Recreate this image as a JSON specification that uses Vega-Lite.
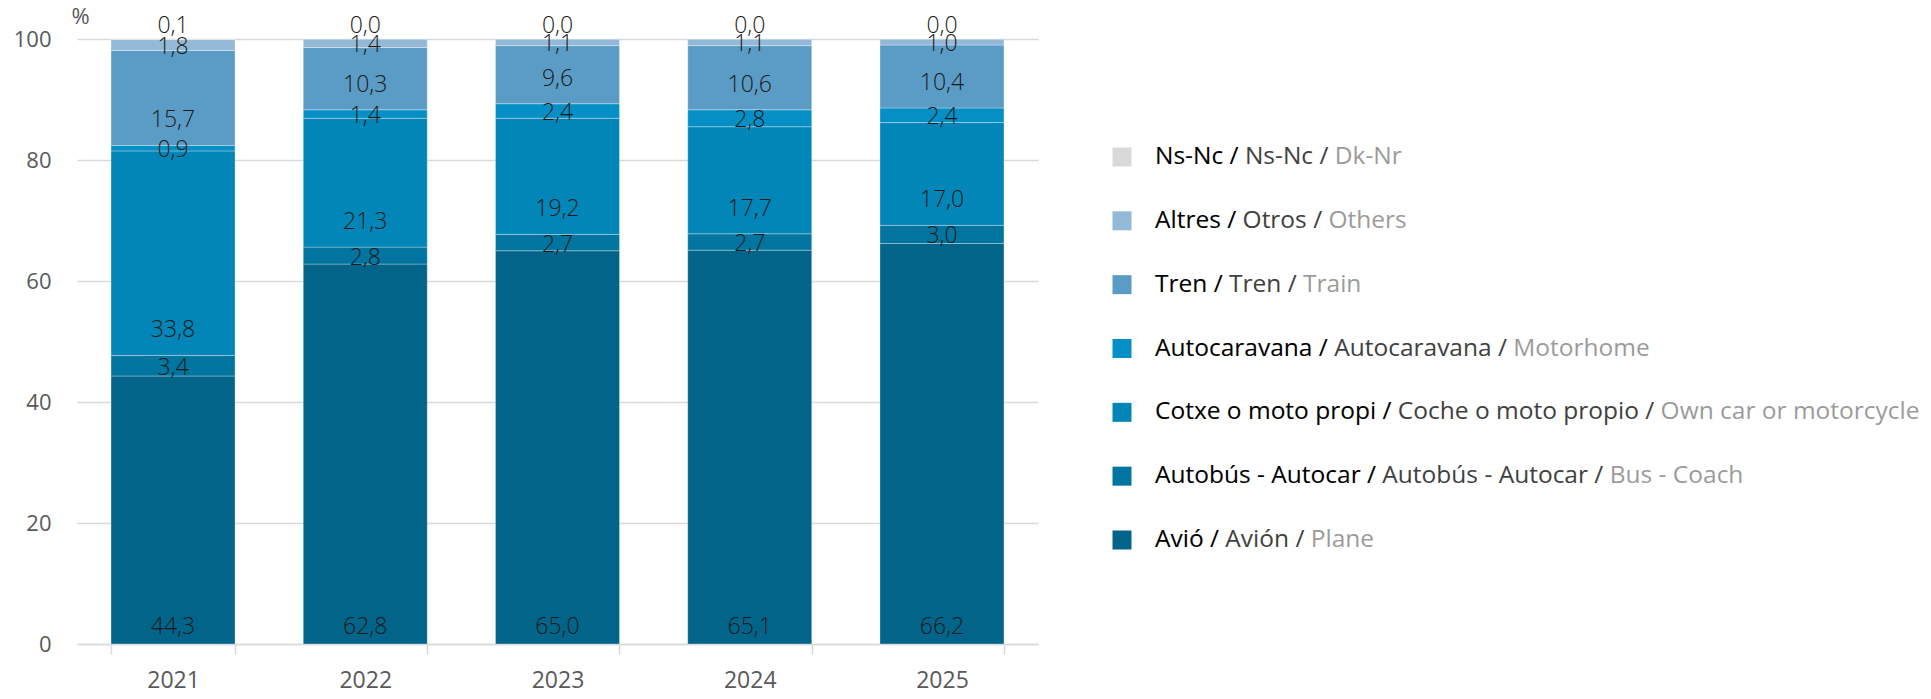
{
  "$schema": "https://vega.github.io/schema/vega-lite/v6.json",
  "padding": {"left": 13, "top": 5, "right": 0, "bottom": 0},
  "spacing": 74,
  "config": {
    "view": {"stroke": null},
    "font": "Open Sans",
    "locale": {"number": {"decimal": ",", "thousands": ".", "grouping": [3], "currency": ["", " €"]}}
  },
  "datasets": {
    "bars": [
      {"year": "2021", "mode": "Avió", "value": 44.3},
      {"year": "2021", "mode": "Autobús - Autocar", "value": 3.4},
      {"year": "2021", "mode": "Cotxe o moto propi", "value": 33.8},
      {"year": "2021", "mode": "Autocaravana", "value": 0.9},
      {"year": "2021", "mode": "Tren", "value": 15.7},
      {"year": "2021", "mode": "Altres", "value": 1.8},
      {"year": "2021", "mode": "Ns-Nc", "value": 0.1},
      {"year": "2022", "mode": "Avió", "value": 62.8},
      {"year": "2022", "mode": "Autobús - Autocar", "value": 2.8},
      {"year": "2022", "mode": "Cotxe o moto propi", "value": 21.3},
      {"year": "2022", "mode": "Autocaravana", "value": 1.4},
      {"year": "2022", "mode": "Tren", "value": 10.3},
      {"year": "2022", "mode": "Altres", "value": 1.4},
      {"year": "2022", "mode": "Ns-Nc", "value": 0.0},
      {"year": "2023", "mode": "Avió", "value": 65.0},
      {"year": "2023", "mode": "Autobús - Autocar", "value": 2.7},
      {"year": "2023", "mode": "Cotxe o moto propi", "value": 19.2},
      {"year": "2023", "mode": "Autocaravana", "value": 2.4},
      {"year": "2023", "mode": "Tren", "value": 9.6},
      {"year": "2023", "mode": "Altres", "value": 1.1},
      {"year": "2023", "mode": "Ns-Nc", "value": 0.0},
      {"year": "2024", "mode": "Avió", "value": 65.1},
      {"year": "2024", "mode": "Autobús - Autocar", "value": 2.7},
      {"year": "2024", "mode": "Cotxe o moto propi", "value": 17.7},
      {"year": "2024", "mode": "Autocaravana", "value": 2.8},
      {"year": "2024", "mode": "Tren", "value": 10.6},
      {"year": "2024", "mode": "Altres", "value": 1.1},
      {"year": "2024", "mode": "Ns-Nc", "value": 0.0},
      {"year": "2025", "mode": "Avió", "value": 66.2},
      {"year": "2025", "mode": "Autobús - Autocar", "value": 3.0},
      {"year": "2025", "mode": "Cotxe o moto propi", "value": 17.0},
      {"year": "2025", "mode": "Autocaravana", "value": 2.4},
      {"year": "2025", "mode": "Tren", "value": 10.4},
      {"year": "2025", "mode": "Altres", "value": 1.0},
      {"year": "2025", "mode": "Ns-Nc", "value": 0.0}
    ],
    "legend": [
      {"mode": "Ns-Nc", "label": "Ns-Nc / Ns-Nc / Dk-Nr"},
      {"mode": "Altres", "label": "Altres / Otros / Others"},
      {"mode": "Tren", "label": "Tren / Tren / Train"},
      {"mode": "Autocaravana", "label": "Autocaravana / Autocaravana / Motorhome"},
      {"mode": "Cotxe o moto propi", "label": "Cotxe o moto propi / Coche o moto propio / Own car or motorcycle"},
      {"mode": "Autobús - Autocar", "label": "Autobús - Autocar / Autobús - Autocar / Bus - Coach"},
      {"mode": "Avió", "label": "Avió / Avión / Plane"}
    ]
  },
  "hconcat": [
    {
      "width": 961,
      "height": 605,
      "data": {"name": "bars"},
      "transform": [
        {"calculate": "indexof(['Avió','Autobús - Autocar','Cotxe o moto propi','Autocaravana','Tren','Altres','Ns-Nc'], datum.mode)", "as": "ord"},
        {"stack": "value", "groupby": ["year"], "sort": [{"field": "ord", "order": "ascending"}], "as": ["v0", "v1"]},
        {"calculate": "(datum.v0 + datum.v1) / 2", "as": "vmid"}
      ],
      "encoding": {
        "x": {
          "field": "year", "type": "ordinal",
          "scale": {"paddingInner": 0.355, "paddingOuter": 0.177},
          "axis": {
            "title": null, "labelAngle": 0, "domain": true, "domainColor": "#d9d9d9", "domainWidth": 1.5,
            "ticks": true, "tickBand": "extent", "tickColor": "#d9d9d9", "tickSize": 10, "tickWidth": 1.5,
            "labelFontSize": 23, "labelColor": "#595959", "labelPadding": 15, "grid": false
          }
        }
      },
      "layer": [
        {
          "mark": {"type": "bar", "stroke": "#ffffff", "strokeOpacity": 0.3, "strokeWidth": 1},
          "encoding": {
            "y": {
              "field": "v1", "type": "quantitative",
              "scale": {"domain": [0, 100]},
              "axis": {
                "values": [0, 20, 40, 60, 80, 100], "domain": false, "ticks": false, "grid": true,
                "gridColor": "#d9d9d9", "gridWidth": 1.5, "labelFontSize": 22, "labelColor": "#595959",
                "labelPadding": 26, "title": "%", "titleAngle": 0, "titleAlign": "left", "titleBaseline": "middle",
                "titleX": -6, "titleY": -23, "titleFontSize": 22, "titleFontWeight": "normal", "titleColor": "#595959"
              }
            },
            "y2": {"field": "v0"},
            "color": {
              "field": "mode", "type": "nominal",
              "scale": {
                "domain": ["Ns-Nc", "Altres", "Tren", "Autocaravana", "Cotxe o moto propi", "Autobús - Autocar", "Avió"],
                "range": ["#d9d9d9", "#94b9d6", "#5a9cc6", "#068fc4", "#0285b7", "#01749f", "#03648a"]
              },
              "legend": null
            }
          }
        },
        {
          "transform": [{"filter": "datum.mode == 'Avió'"}],
          "mark": {"type": "text", "dy": -17, "fontSize": 23, "fontWeight": 300, "color": "#1a1a1a", "baseline": "middle"},
          "encoding": {"y": {"field": "v0", "type": "quantitative"}, "text": {"field": "value", "type": "quantitative", "format": ".1f"}}
        },
        {
          "transform": [{"filter": "datum.mode == 'Cotxe o moto propi' || datum.mode == 'Tren'"}],
          "mark": {"type": "text", "dy": -25, "fontSize": 23, "fontWeight": 300, "color": "#1a1a1a", "baseline": "middle"},
          "encoding": {"y": {"field": "v0", "type": "quantitative"}, "text": {"field": "value", "type": "quantitative", "format": ".1f"}}
        },
        {
          "transform": [{"filter": "datum.mode == 'Autobús - Autocar' || datum.mode == 'Autocaravana' || datum.mode == 'Altres'"}],
          "mark": {"type": "text", "dy": 2, "fontSize": 23, "fontWeight": 300, "color": "#1a1a1a", "baseline": "middle"},
          "encoding": {"y": {"field": "vmid", "type": "quantitative"}, "text": {"field": "value", "type": "quantitative", "format": ".1f"}}
        },
        {
          "transform": [{"filter": "datum.mode == 'Ns-Nc'"}],
          "mark": {"type": "text", "dy": -13, "fontSize": 23, "fontWeight": 300, "color": "#1a1a1a", "baseline": "middle"},
          "encoding": {"y": {"field": "v1", "type": "quantitative"}, "text": {"field": "value", "type": "quantitative", "format": ".1f"}}
        }
      ]
    },
    {
      "width": 780,
      "height": 605,
      "data": {"name": "legend"},
      "encoding": {
        "y": {
          "field": "mode", "type": "nominal",
          "scale": {"type": "point", "domain": ["Ns-Nc", "Altres", "Tren", "Autocaravana", "Cotxe o moto propi", "Autobús - Autocar", "Avió"], "range": [118, 501], "padding": 0},
          "axis": null
        },
        "x": {"datum": 0, "type": "quantitative", "scale": {"domain": [0, 1]}, "axis": null}
      },
      "layer": [
        {
          "mark": {"type": "square", "size": 361, "filled": true, "opacity": 1},
          "encoding": {
            "color": {
              "field": "mode", "type": "nominal",
              "scale": {
                "domain": ["Ns-Nc", "Altres", "Tren", "Autocaravana", "Cotxe o moto propi", "Autobús - Autocar", "Avió"],
                "range": ["#d9d9d9", "#94b9d6", "#5a9cc6", "#068fc4", "#0285b7", "#01749f", "#03648a"]
              },
              "legend": null
            }
          }
        },
        {
          "transform": [{"filter": "datum.mode == 'Ns-Nc'"}],
          "mark": {"type": "text", "align": "left", "baseline": "middle", "dx": 33, "fontSize": 24.5,
            "fill": {"gradient": "linear", "x1": 0, "y1": 0, "x2": 1, "y2": 0, "stops": [
              {"offset": 0, "color": "#000000"}, {"offset": 0.351, "color": "#000000"},
              {"offset": 0.351, "color": "#404040"}, {"offset": 0.7155, "color": "#404040"},
              {"offset": 0.7155, "color": "#9a9a9a"}, {"offset": 1, "color": "#9a9a9a"}]}},
          "encoding": {"text": {"field": "label"}}
        },
        {
          "transform": [{"filter": "datum.mode == 'Altres'"}],
          "mark": {"type": "text", "align": "left", "baseline": "middle", "dx": 33, "fontSize": 24.5,
            "fill": {"gradient": "linear", "x1": 0, "y1": 0, "x2": 1, "y2": 0, "stops": [
              {"offset": 0, "color": "#000000"}, {"offset": 0.335, "color": "#000000"},
              {"offset": 0.335, "color": "#404040"}, {"offset": 0.677, "color": "#404040"},
              {"offset": 0.677, "color": "#9a9a9a"}, {"offset": 1, "color": "#9a9a9a"}]}},
          "encoding": {"text": {"field": "label"}}
        },
        {
          "transform": [{"filter": "datum.mode == 'Tren'"}],
          "mark": {"type": "text", "align": "left", "baseline": "middle", "dx": 33, "fontSize": 24.5,
            "fill": {"gradient": "linear", "x1": 0, "y1": 0, "x2": 1, "y2": 0, "stops": [
              {"offset": 0, "color": "#000000"}, {"offset": 0.343, "color": "#000000"},
              {"offset": 0.343, "color": "#404040"}, {"offset": 0.702, "color": "#404040"},
              {"offset": 0.702, "color": "#9a9a9a"}, {"offset": 1, "color": "#9a9a9a"}]}},
          "encoding": {"text": {"field": "label"}}
        },
        {
          "transform": [{"filter": "datum.mode == 'Autocaravana'"}],
          "mark": {"type": "text", "align": "left", "baseline": "middle", "dx": 33, "fontSize": 24.5,
            "fill": {"gradient": "linear", "x1": 0, "y1": 0, "x2": 1, "y2": 0, "stops": [
              {"offset": 0, "color": "#000000"}, {"offset": 0.3558, "color": "#000000"},
              {"offset": 0.3558, "color": "#404040"}, {"offset": 0.718, "color": "#404040"},
              {"offset": 0.718, "color": "#9a9a9a"}, {"offset": 1, "color": "#9a9a9a"}]}},
          "encoding": {"text": {"field": "label"}}
        },
        {
          "transform": [{"filter": "datum.mode == 'Cotxe o moto propi'"}],
          "mark": {"type": "text", "align": "left", "baseline": "middle", "dx": 33, "fontSize": 24.5,
            "fill": {"gradient": "linear", "x1": 0, "y1": 0, "x2": 1, "y2": 0, "stops": [
              {"offset": 0, "color": "#000000"}, {"offset": 0.3132, "color": "#000000"},
              {"offset": 0.3132, "color": "#404040"}, {"offset": 0.6572, "color": "#404040"},
              {"offset": 0.6572, "color": "#9a9a9a"}, {"offset": 1, "color": "#9a9a9a"}]}},
          "encoding": {"text": {"field": "label"}}
        },
        {
          "transform": [{"filter": "datum.mode == 'Autobús - Autocar'"}],
          "mark": {"type": "text", "align": "left", "baseline": "middle", "dx": 33, "fontSize": 24.5,
            "fill": {"gradient": "linear", "x1": 0, "y1": 0, "x2": 1, "y2": 0, "stops": [
              {"offset": 0, "color": "#000000"}, {"offset": 0.381, "color": "#000000"},
              {"offset": 0.381, "color": "#404040"}, {"offset": 0.767, "color": "#404040"},
              {"offset": 0.767, "color": "#9a9a9a"}, {"offset": 1, "color": "#9a9a9a"}]}},
          "encoding": {"text": {"field": "label"}}
        },
        {
          "transform": [{"filter": "datum.mode == 'Avió'"}],
          "mark": {"type": "text", "align": "left", "baseline": "middle", "dx": 33, "fontSize": 24.5,
            "fill": {"gradient": "linear", "x1": 0, "y1": 0, "x2": 1, "y2": 0, "stops": [
              {"offset": 0, "color": "#000000"}, {"offset": 0.3068, "color": "#000000"},
              {"offset": 0.3068, "color": "#404040"}, {"offset": 0.6967, "color": "#404040"},
              {"offset": 0.6967, "color": "#9a9a9a"}, {"offset": 1, "color": "#9a9a9a"}]}},
          "encoding": {"text": {"field": "label"}}
        }
      ]
    }
  ]
}
